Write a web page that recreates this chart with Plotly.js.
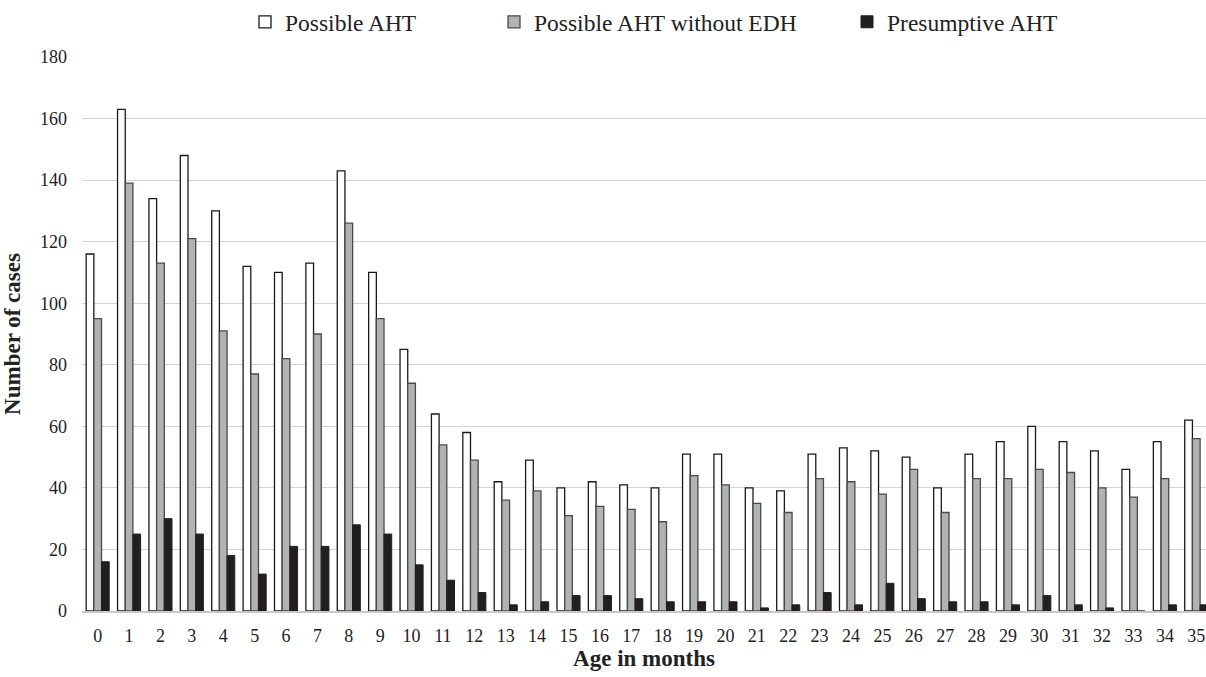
<!DOCTYPE html>
<html>
<head>
<meta charset="utf-8">
<script src="https://cdn.plot.ly/plotly-3.0.1.min.js"></script>
<style>html,body{margin:0;padding:0;background:#fff;}#chart{width:1206px;height:677px;}</style>
</head>
<body>
<div id="chart"></div>
<script>
const ageMonths = [0,1,2,3,4,5,6,7,8,9,10,11,12,13,14,15,16,17,18,19,20,21,22,23,24,25,26,27,28,29,30,31,32,33,34,35];
const possibleAHT = [116,163,134,148,130,112,110,113,143,110,85,64,58,42,49,40,42,41,40,51,51,40,39,51,53,52,50,40,51,55,60,55,52,46,55,62];
const possibleNoEDH = [95,139,113,121,91,77,82,90,126,95,74,54,49,36,39,31,34,33,29,44,41,35,32,43,42,38,46,32,43,43,46,45,40,37,43,56];
const presumptiveAHT = [16,25,30,25,18,12,21,21,28,25,15,10,6,2,3,5,5,4,3,3,3,1,2,6,2,9,4,3,3,2,5,2,1,0,2,2];
const seriesNames = ['Possible AHT','Possible AHT without EDH','Presumptive AHT'];
const yTicks = [0,20,40,60,80,100,120,140,160,180];

const font = "Liberation Serif";
const traces = [
  {x: ageMonths, y: possibleAHT, name: seriesNames[0], type:'bar', legend:'legend',
   marker:{color:'#ffffff', line:{color:'#1a1a1a', width:1.3}}},
  {x: ageMonths, y: possibleNoEDH, name: seriesNames[1], type:'bar', legend:'legend2',
   marker:{color:'#b1b2b5', line:{color:'#4a4a4a', width:1.3}}},
  {x: ageMonths, y: presumptiveAHT, name: seriesNames[2], type:'bar', legend:'legend3',
   marker:{color:'#231f20', line:{color:'#231f20', width:1}}}
];
function legendAt(px){
  return {orientation:'h', xref:'container', yref:'container', x:px/1206, xanchor:'left',
          y:1-22/677, yanchor:'middle', bgcolor:'rgba(0,0,0,0)', borderwidth:0,
          font:{family:font, size:23.5, color:'#222'}, itemwidth:30};
}
const layout = {
  width:1206, height:677,
  margin:{l:82, r:0, t:57, b:66, autoexpand:false},
  paper_bgcolor:'#fff', plot_bgcolor:'#fff',
  font:{family:font, color:'#222', size:18},
  barmode:'group', bargap:0.265, bargroupgap:0,
  showlegend:true,
  legend:legendAt(245),
  legend2:legendAt(494),
  legend3:legendAt(847),
  xaxis:{range:[-0.5,35.31], tickmode:'array', tickvals:ageMonths, ticktext:ageMonths.map(String),
         showgrid:false, zeroline:false, showline:true, linecolor:'#c8c8c8', linewidth:1.5,
         ticks:'', ticklabelstandoff:8, tickfont:{family:font, size:18, color:'#222'},
         title:{text:'<b>Age in months</b>', font:{family:font, size:23, color:'#222'}, standoff:4}},
  yaxis:{range:[0,180], tickmode:'array', tickvals:yTicks, showgrid:true, gridcolor:'#d4d4d4', gridwidth:1,
         zeroline:false, showline:false, ticks:'', ticklabelstandoff:14,
         tickfont:{family:font, size:18, color:'#222'},
         title:{text:'<b>Number of cases</b>', font:{family:font, size:23, color:'#222'}, standoff:12}}
};
Plotly.newPlot('chart', traces, layout, {displayModeBar:false, staticPlot:true});
</script>
</body>
</html>
